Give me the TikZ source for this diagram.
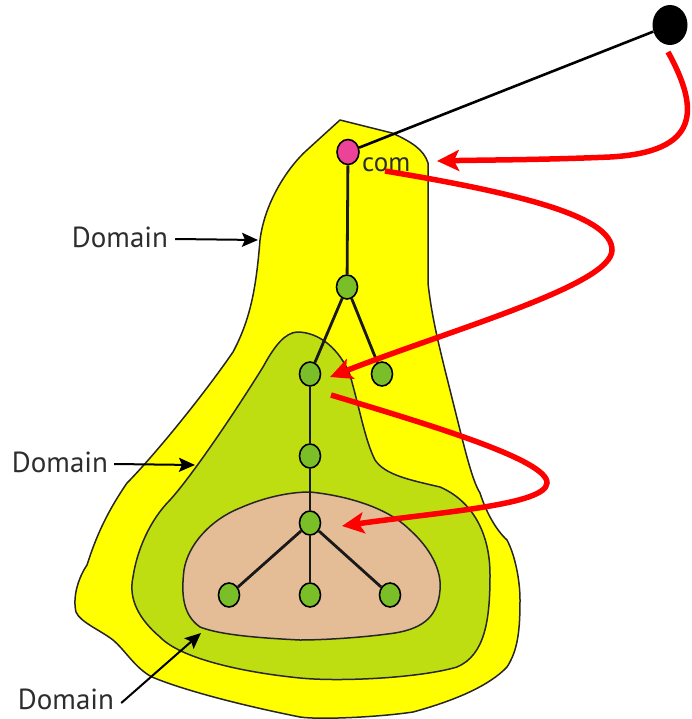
\documentclass[tikz,border=0pt]{standalone}
\usepackage{fontspec}
\setmainfont{PT Sans}
\usetikzlibrary{shapes.geometric,arrows.meta}
\definecolor{yel}{RGB}{255,255,0}
\definecolor{lgreen}{RGB}{190,222,18}
\definecolor{tan}{RGB}{228,188,150}
\definecolor{ngreen}{RGB}{122,190,40}
\definecolor{npink}{RGB}{236,66,152}
\definecolor{txt}{RGB}{45,45,45}
\definecolor{redarr}{RGB}{255,0,0}
\tikzset{
  region/.style={draw=black!85, line width=1.5pt, line join=round},
  gnode/.style={ellipse, draw=black, line width=1.6pt, fill=ngreen, minimum width=21pt, minimum height=24pt, inner sep=0pt},
  pnode/.style={ellipse, draw=black, line width=1.6pt, fill=npink, minimum width=22pt, minimum height=25pt, inner sep=0pt},
  tedge/.style={line width=2.8pt, black!90},
  redarrow/.style={draw=redarr, line width=5.5pt, -{Stealth[length=22pt,width=21pt,inset=5pt]}},
  domarrow/.style={draw=black, line width=2pt, -{Stealth[length=16pt,width=14pt,inset=3pt]}},
  domlabel/.style={text=txt, font=\fontsize{29}{32}\selectfont, inner sep=0pt}
}
\begin{document}
\begin{tikzpicture}[x=1pt,y=-1pt]
\path[use as bounding box] (0,0) rectangle (691,719);
% outer domain (yellow)
\draw[region, fill=yel] (340,120) -- (392,133) .. controls (412,142) and (424,150) .. (428,163)
  -- (428,283) .. controls (432,320) and (440,350) .. (455,410)
  .. controls (465,450) and (472,480) .. (480,493) .. controls (486,512) and (496,530) .. (507,540)
  .. controls (515,555) and (520,580) .. (520,600) .. controls (520,630) and (518,650) .. (507,667)
  .. controls (490,685) and (457,700) .. (413,712) .. controls (380,717) and (320,720) .. (300,717)
  .. controls (240,705) and (183,690) .. (152,677) .. controls (135,668) and (125,650) .. (113,640)
  .. controls (100,630) and (80,622) .. (76,612) .. controls (72,595) and (80,575) .. (87,565)
  .. controls (95,540) and (105,515) .. (127,483) .. controls (150,460) and (200,400) .. (233,352)
  .. controls (250,320) and (256,290) .. (260,240) .. controls (265,200) and (290,165) .. (307,150)
  -- cycle;
% middle domain (light green)
\draw[region, fill=lgreen] (297,332) .. controls (320,332) and (340,350) .. (350,375)
  .. controls (360,410) and (365,440) .. (375,460) .. controls (385,475) and (410,480) .. (440,487)
  .. controls (470,500) and (490,530) .. (490,575) .. controls (490,620) and (485,655) .. (457,667)
  .. controls (420,678) and (340,682) .. (300,678) .. controls (240,672) and (180,658) .. (160,637)
  .. controls (140,620) and (128,600) .. (133,577) .. controls (137,550) and (150,520) .. (170,500)
  .. controls (190,478) and (230,420) .. (263,367) .. controls (275,345) and (285,333) .. (297,332)
  -- cycle;
% inner domain (tan)
\draw[region, fill=tan] (310,492) .. controls (340,495) and (385,505) .. (410,530)
  .. controls (430,548) and (442,570) .. (440,590) .. controls (438,615) and (425,628) .. (395,633)
  .. controls (360,638) and (320,640) .. (300,640) .. controls (260,638) and (220,635) .. (200,627)
  .. controls (183,615) and (181,595) .. (184,570) .. controls (188,545) and (210,520) .. (240,508)
  .. controls (265,497) and (290,492) .. (310,492) -- cycle;
% nodes
\node[ellipse, fill=black, minimum width=35pt, minimum height=40pt, inner sep=0pt] (top) at (670,25) {};
\node[pnode] (com) at (348,152) {};
\node[gnode] (n1) at (347,287) {};
\node[gnode] (n2) at (310,374) {};
\node[gnode] (n3) at (382,374) {};
\node[gnode] (n4) at (310,456) {};
\node[gnode] (n5) at (310,523) {};
\node[gnode] (n6) at (229,595) {};
\node[gnode] (n7) at (310,595) {};
\node[gnode] (n8) at (390,595) {};
% edges
\draw[line width=2.6pt] (top) -- (com);
\draw[tedge] (com) -- (n1);
\draw[tedge] (n1) -- (n2);
\draw[tedge] (n1) -- (n3);
\draw[tedge] (n2) -- (n4);
\draw[tedge] (n4) -- (n5);
\draw[tedge] (n5) -- (n6);
\draw[tedge] (n5) -- (n7);
\draw[tedge] (n5) -- (n8);
% label com
\node[text=txt, font=\fontsize{27}{30}\selectfont, anchor=base west, inner sep=0pt] (comlabel) at (362,172) {com};
% domain labels
\node[domlabel] (d1) at (120,237) {Domain};
\node[domlabel] (d2) at (60,462) {Domain};
\node[domlabel] (d3) at (66,699) {Domain};
\coordinate (d1t) at (258,240);
\coordinate (d2t) at (195,465);
\coordinate (d3t) at (201,633);
\draw[domarrow] (d1.east) ++(7,2) -- (d1t);
\draw[domarrow] (d2.east) ++(6,2) -- (d2t);
\draw[domarrow] (d3.east) ++(7,4) -- (d3t);
% red arrows
\coordinate (r1s) at (668,52);
\coordinate (r1t) at (437,161);
\coordinate (r2s) at (385,171);
\coordinate (r2t) at (330,377);
\coordinate (r3s) at (331,395);
\coordinate (r3t) at (342,526);
\draw[redarrow] (r1s) .. controls (700,110) and (700,152) .. (610,157) .. controls (540,160) and (480,160) .. (r1t);
\draw[redarrow] (r2s) .. controls (530,195) and (612,218) .. (612,250) .. controls (612,285) and (450,330) .. (r2t);
\draw[redarrow] (r3s) .. controls (430,425) and (548,460) .. (547,483) .. controls (546,505) and (440,512) .. (r3t);
\end{tikzpicture}
\end{document}
